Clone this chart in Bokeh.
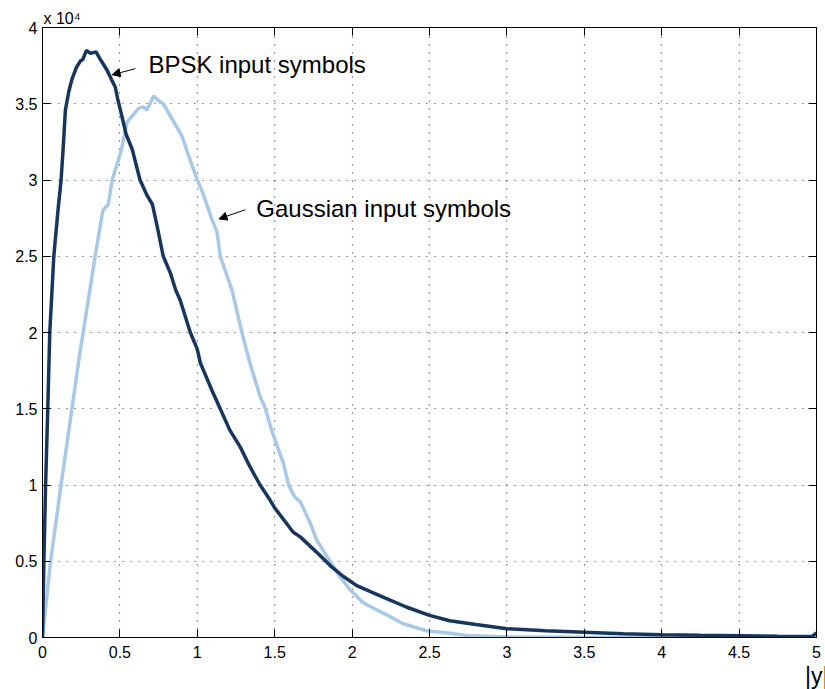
from bokeh.plotting import figure
from bokeh.models import (Range1d, LinearAxis, FixedTicker, Label, Arrow, NormalHead, Title)
from bokeh.embed import file_html
from bokeh.resources import INLINE

# ---- data (counts, in units of 1e4) ----
bpsk_x = [0, 0.009, 0.02, 0.034, 0.047, 0.073, 0.1, 0.12, 0.133, 0.148, 0.17, 0.19, 0.22,
          0.245, 0.26, 0.284, 0.31, 0.346, 0.374, 0.417, 0.445, 0.47, 0.486, 0.51, 0.54,
          0.58, 0.63, 0.675, 0.71, 0.74, 0.78, 0.826, 0.86, 0.89, 0.955, 1.0, 1.02, 1.095,
          1.148, 1.21, 1.277, 1.34, 1.406, 1.458, 1.5, 1.62, 1.665, 1.77, 1.86, 1.944, 2.03,
          2.2, 2.35, 2.5, 2.63, 2.8, 3.0, 3.25, 3.5, 3.75, 4.0, 4.25, 4.5, 4.75, 4.97, 5.0]
bpsk_y = [0, 0.5, 1.0, 1.5, 2.0, 2.5, 2.8, 3.0, 3.2, 3.46, 3.58, 3.66, 3.74,
          3.78, 3.79, 3.85, 3.83, 3.84, 3.79, 3.72, 3.66, 3.61, 3.53, 3.43, 3.30,
          3.20, 3.0, 2.9, 2.84, 2.70, 2.5, 2.39, 2.28, 2.21, 2.0, 1.89, 1.8, 1.62,
          1.5, 1.36, 1.25, 1.12, 1.0, 0.92, 0.85, 0.69, 0.66, 0.56, 0.47, 0.40, 0.34,
          0.265, 0.2, 0.145, 0.11, 0.085, 0.057, 0.045, 0.035, 0.025, 0.018, 0.014, 0.011,
          0.008, 0.006, 0.03]

gauss_x = [0, 0.052, 0.12, 0.19, 0.245, 0.266, 0.34, 0.39, 0.425, 0.45, 0.49, 0.51, 0.546,
           0.589, 0.621, 0.65, 0.675, 0.718, 0.75, 0.78, 0.826, 0.9, 0.944, 1.0, 1.03, 1.095,
           1.127, 1.148, 1.224, 1.288, 1.34, 1.406, 1.44, 1.48, 1.557, 1.59, 1.63, 1.665,
           1.73, 1.77, 1.86, 1.92, 1.99, 2.07, 2.16, 2.25, 2.33, 2.48, 2.63, 2.74, 3.0,
           3.5, 4.0, 4.5, 5.0]
gauss_y = [0, 0.5, 1.0, 1.5, 1.89, 2.02, 2.5, 2.8, 2.84, 3.0, 3.13, 3.2, 3.38,
           3.43, 3.47, 3.48, 3.46, 3.55, 3.52, 3.50, 3.42, 3.29, 3.16, 3.0, 2.93, 2.74,
           2.66, 2.5, 2.28, 2.0, 1.8, 1.58, 1.5, 1.36, 1.14, 1.0, 0.92, 0.89,
           0.75, 0.64, 0.495, 0.40, 0.31, 0.23, 0.18, 0.135, 0.09, 0.044, 0.028, 0.013, 0.004,
           0.001, 0, 0, 0]

x_ticks = [0, 0.5, 1, 1.5, 2, 2.5, 3, 3.5, 4, 4.5, 5]
x_tick_labels = ["0", "0.5", "1", "1.5", "2", "2.5", "3", "3.5", "4", "4.5", "5"]
y_ticks = [0, 0.5, 1, 1.5, 2, 2.5, 3, 3.5, 4]
y_tick_labels = ["0", "0.5", "1", "1.5", "2", "2.5", "3", "3.5", "4"]

FONT = "Liberation Sans"
DARK = "#17365d"
LIGHT = "#a8c8e8"

p = figure(width=825, height=689, output_backend="svg", toolbar_location=None,
           x_range=Range1d(0, 5), y_range=Range1d(0, 4),
           min_border_left=42, min_border_right=9, min_border_top=27, min_border_bottom=52)
p.background_fill_color = "white"
p.border_fill_color = "white"
p.outline_line_color = "black"
p.outline_line_width = 1

p.line(gauss_x, gauss_y, line_color=LIGHT, line_width=3.5)
p.line(bpsk_x, bpsk_y, line_color=DARK, line_width=3.5)

for ax, ticks, labels in ((p.xaxis[0], x_ticks, x_tick_labels), (p.yaxis[0], y_ticks, y_tick_labels)):
    ax.ticker = FixedTicker(ticks=ticks)
    ax.major_label_overrides = {t: l for t, l in zip(ticks, labels)}
    ax.major_tick_in = 8
    ax.major_tick_out = 0
    ax.minor_tick_line_color = None
    ax.axis_line_color = "black"
    ax.major_tick_line_color = "black"
    ax.major_label_text_font = FONT
    ax.major_label_text_font_size = "16px"
    ax.major_label_text_color = "black"
p.xaxis[0].major_label_standoff = 8
p.yaxis[0].major_label_standoff = 5

top = LinearAxis(ticker=FixedTicker(ticks=x_ticks), major_tick_in=8, major_tick_out=0,
                 minor_tick_line_color=None, major_label_text_font_size="0px",
                 major_label_text_color=None,
                 major_label_standoff=0, axis_line_color="black")
right = LinearAxis(ticker=FixedTicker(ticks=y_ticks), major_tick_in=8, major_tick_out=0,
                   minor_tick_line_color=None, major_label_text_font_size="0px",
                   major_label_text_color=None,
                   major_label_standoff=0, axis_line_color="black")
p.add_layout(top, "above")
p.add_layout(right, "right")

for g in (p.xgrid[0], p.ygrid[0]):
    g.grid_line_color = "#333333"
    g.grid_line_dash = "1 7"
    g.grid_line_width = 1.2
p.xgrid[0].ticker = FixedTicker(ticks=x_ticks)
p.ygrid[0].ticker = FixedTicker(ticks=y_ticks)

# annotations
p.add_layout(Label(x=0.684, y=3.758, text="BPSK input symbols", text_font=FONT,
                   text_font_size="24px", text_color="black", text_baseline="alphabetic"))
p.add_layout(Label(x=1.381, y=2.81, text="Gaussian input symbols", text_font=FONT,
                   text_font_size="24px", text_color="black", text_baseline="alphabetic"))
p.add_layout(Arrow(x_start=0.6, y_start=3.73, x_end=0.45, y_end=3.69, line_width=1,
                   line_color="black",
                   end=NormalHead(size=8, fill_color="black", line_color="black")))
p.add_layout(Arrow(x_start=1.31, y_start=2.805, x_end=1.14, y_end=2.745, line_width=1,
                   line_color="black",
                   end=NormalHead(size=8, fill_color="black", line_color="black")))

p.add_layout(Title(text="x 10\u2074", align="left", text_font=FONT, text_font_size="16px",
                   text_font_style="normal", text_color="black", standoff=2, offset=1),
             "above")
p.add_layout(Title(text="|y|", align="right", text_font=FONT, text_font_size="23px",
                   text_font_style="normal", text_color="black", standoff=0, offset=-12),
             "below")

open("out.html", "w").write(file_html(p, INLINE))
